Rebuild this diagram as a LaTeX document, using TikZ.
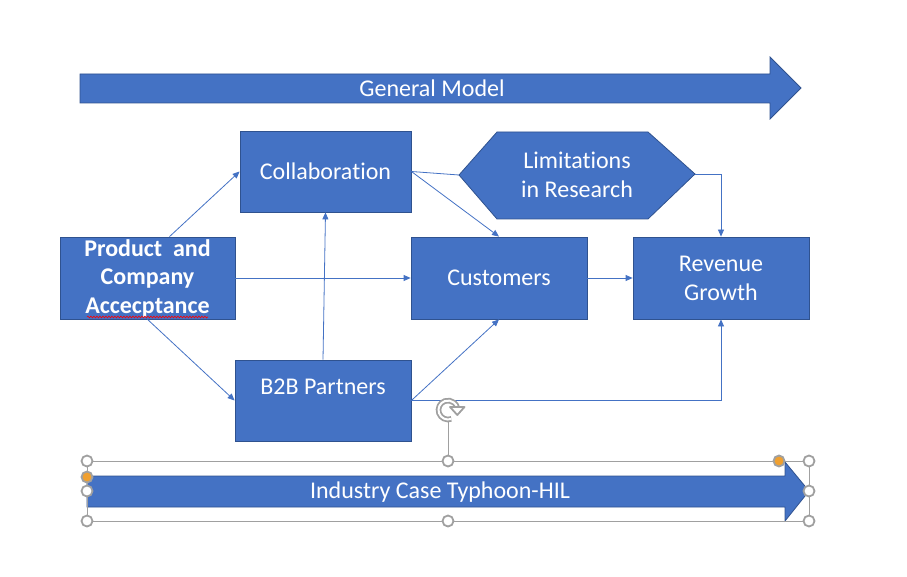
\documentclass[tikz,border=0pt]{standalone}
\usepackage{fontspec}
\setmainfont{Carlito}[Ligatures=NoCommon]
\usepackage{xcolor}
\usetikzlibrary{arrows.meta,decorations.pathmorphing}

\definecolor{boxblue}{HTML}{4472C4}
\definecolor{boxedge}{HTML}{2F528F}
\definecolor{handlegray}{HTML}{A0A0A0}
\definecolor{handleorange}{HTML}{F0A030}

\begin{document}
\begin{tikzpicture}[
        x=1pt, y=-1pt, >={Triangle[length=7pt,width=6pt]},
        every node/.style={font=\fontsize{24}{29}\selectfont, align=center},
        box/.style={rectangle, draw=boxedge, fill=boxblue, text=white, line width=0.8pt,
          minimum width=176pt, minimum height=82pt, inner sep=2pt},
        banner/.style={draw=boxedge, fill=boxblue, line width=0.8pt},
        link/.style={draw=boxblue, line width=0.8pt},
        handle/.style={circle, draw=handlegray, fill=white, line width=1.8pt, minimum size=11pt, inner sep=0pt},
        selline/.style={draw=handlegray, line width=0.8pt}
      ]
        \useasboundingbox (0,0) rectangle (907,577);

        % top banner
        \draw[banner] (80,74) -- (770,74) -- (770,57) -- (801,88) -- (770,119) -- (770,103) -- (80,103) -- cycle;
        \node[text=white] (general) at (432,88) {General Model};

        % boxes
        \node[box, minimum width=171pt, minimum height=81pt] (collab) at (325.5,171.5) {Collaboration};
        \node[box] (cust) at (499,278) {Customers};
        \node[box] (rev) at (721,278) {Revenue\\Growth};
        \node[box, minimum width=175pt, font=\fontsize{24}{28.5}\selectfont\bfseries] (prod) at (147.5,278) {Product\ \ and\\Company\\Accecptance};
        \node[box, minimum height=81pt, text height=16pt, text depth=29pt] (b2b) at (323,400.5) {B2B Partners};

        % hexagon
        \draw[banner] (459,175) -- (497,132) -- (648,132) -- (695,174) -- (648,219) -- (497,219) -- cycle;
        \node[text=white] (lim) at (577,175) {Limitations\\in Research};
        \coordinate (limL) at (459,175);
        \coordinate (limR) at (695,174);

        % spell check mark
        \draw[red, line width=0.6pt, decorate, decoration={snake, amplitude=0.9pt, segment length=3pt}] (87,317) -- (208,317);

        % connectors
        \draw[link,->] ([xshift=22pt]prod.north) -- (collab.west);
        \draw[link,->] (prod.east) -- (cust.west);
        \draw[link,->] (prod.south) -- (b2b.west);
        \draw[link,->] (b2b.north) -- (collab.south);
        \draw[link,->] (collab.east) -- (cust.north);
        \draw[link] (collab.east) -- (limL);
        \draw[link,->] (limR) -| (rev.north);
        \draw[link,->] (cust.east) -- (rev.west);
        \draw[link,->] (b2b.east) -- (cust.south);
        \draw[link,->] (b2b.east) -| (rev.south);

        % bottom banner
        \draw[banner] (87,476) -- (785,476) -- (785,462) -- (809,491) -- (785,521) -- (785,507) -- (87,507) -- cycle;
        \node[text=white] (industry) at (440,492) {Industry Case Typhoon-HIL};

        % selection frame
        \draw[selline] (87,461) rectangle (809,521);
        \draw[selline] (448,461) -- (448,421);
        \draw[handlegray, line width=1.8pt, double=white, double distance=2pt] (448,410) ++(70:9.5) arc (70:345:9.5);
        \draw[handlegray, line width=1.8pt, fill=white, line join=round] (450,407) -- (464.5,407) -- (457.3,415) -- cycle;
        \foreach \hx/\hy in {87/461, 448/461, 809/461, 87/491, 809/491, 87/521, 448/521, 809/521}
          \node[handle] at (\hx,\hy) {};
        \node[handle, fill=handleorange] at (87,477) {};
        \node[handle, fill=handleorange] at (779,461) {};
      \end{tikzpicture}
\end{document}
